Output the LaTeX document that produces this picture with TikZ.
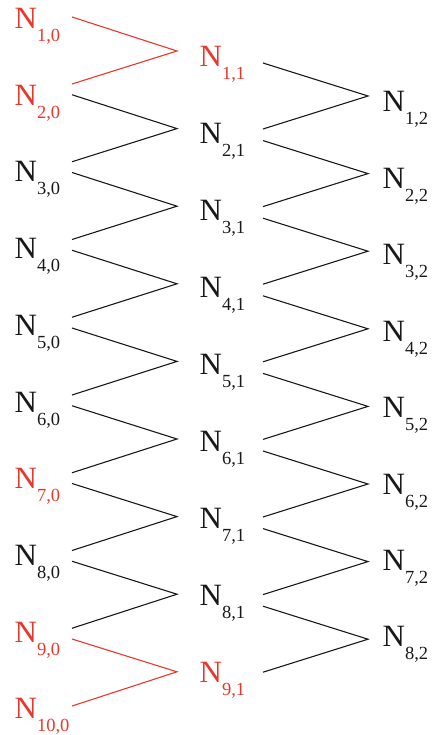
\documentclass[tikz,border=0pt]{standalone}
\usepackage{fontspec}
\setmainfont{Liberation Serif}
\definecolor{nred}{RGB}{232,56,44}
\definecolor{nblack}{RGB}{25,25,25}
\newcommand{\NN}[2]{N\raisebox{-13pt}{\fontsize{18.5}{20}\selectfont #1,#2}}
\begin{document}
\begin{tikzpicture}[x=1pt,y=-1pt,
  lab/.style={inner sep=0pt, anchor=base west, font=\fontsize{31}{36}\selectfont, text=nblack},
  hot/.style={text=nred},
  conn/.style={line width=1.1pt, draw=nblack, line join=miter},
  hotconn/.style={conn, draw=nred}]
\useasboundingbox (0,0) rectangle (433,735);
% column 0 labels
\foreach \i in {1,...,10} {
  \pgfmathsetmacro\yy{28.5+(\i-1)*76.7}
  \ifnum\i=1 \def\st{hot}\else\ifnum\i=2 \def\st{hot}\else\ifnum\i=7 \def\st{hot}\else\ifnum\i=9 \def\st{hot}\else\ifnum\i=10 \def\st{hot}\else\def\st{}\fi\fi\fi\fi\fi
  \node[lab,\st] (n\i-0) at (14.5,\yy) {\NN{\i}{0}};
}
% column 1 labels
\foreach \j in {1,...,9} {
  \pgfmathsetmacro\yy{67+(\j-1)*76.9}
  \ifnum\j=1 \def\st{hot}\else\ifnum\j=9 \def\st{hot}\else\def\st{}\fi\fi
  \node[lab,\st] (n\j-1) at (199.5,\yy) {\NN{\j}{1}};
}
% column 2 labels
\foreach \k in {1,...,8} {
  \pgfmathsetmacro\yy{112+(\k-1)*76.4}
  \node[lab] (n\k-2) at (382.5,\yy) {\NN{\k}{2}};
}
% connection points
\foreach \i in {1,...,10} {
  \pgfmathsetmacro\yu{84+(\i-2)*77.75}
  \pgfmathsetmacro\yl{17+(\i-1)*77.75}
  \coordinate (u0-\i) at (72,\yu);
  \coordinate (l0-\i) at (72,\yl);
}
\foreach \j in {1,...,9} {
  \pgfmathsetmacro\ya{51+(\j-1)*77.6}
  \pgfmathsetmacro\yu{129+(\j-2)*77.6}
  \pgfmathsetmacro\yl{63+(\j-1)*77.6}
  \coordinate (a1-\j) at (177,\ya);
  \coordinate (u1-\j) at (263,\yu);
  \coordinate (l1-\j) at (263,\yl);
}
\foreach \k in {1,...,8} {
  \pgfmathsetmacro\ya{96+(\k-1)*77.6}
  \coordinate (a2-\k) at (368,\ya);
}
% zigzags column 0 -> column 1
\draw[hotconn] (l0-1) -- (a1-1) -- (u0-2);
\foreach \i [evaluate=\i as \n using int(\i+1)] in {2,...,8} {
  \draw[conn] (l0-\i) -- (a1-\i) -- (u0-\n);
}
\draw[hotconn] (l0-9) -- (a1-9) -- (u0-10);
% zigzags column 1 -> column 2
\foreach \j [evaluate=\j as \n using int(\j+1)] in {1,...,8} {
  \draw[conn] (l1-\j) -- (a2-\j) -- (u1-\n);
}
\end{tikzpicture}
\end{document}
